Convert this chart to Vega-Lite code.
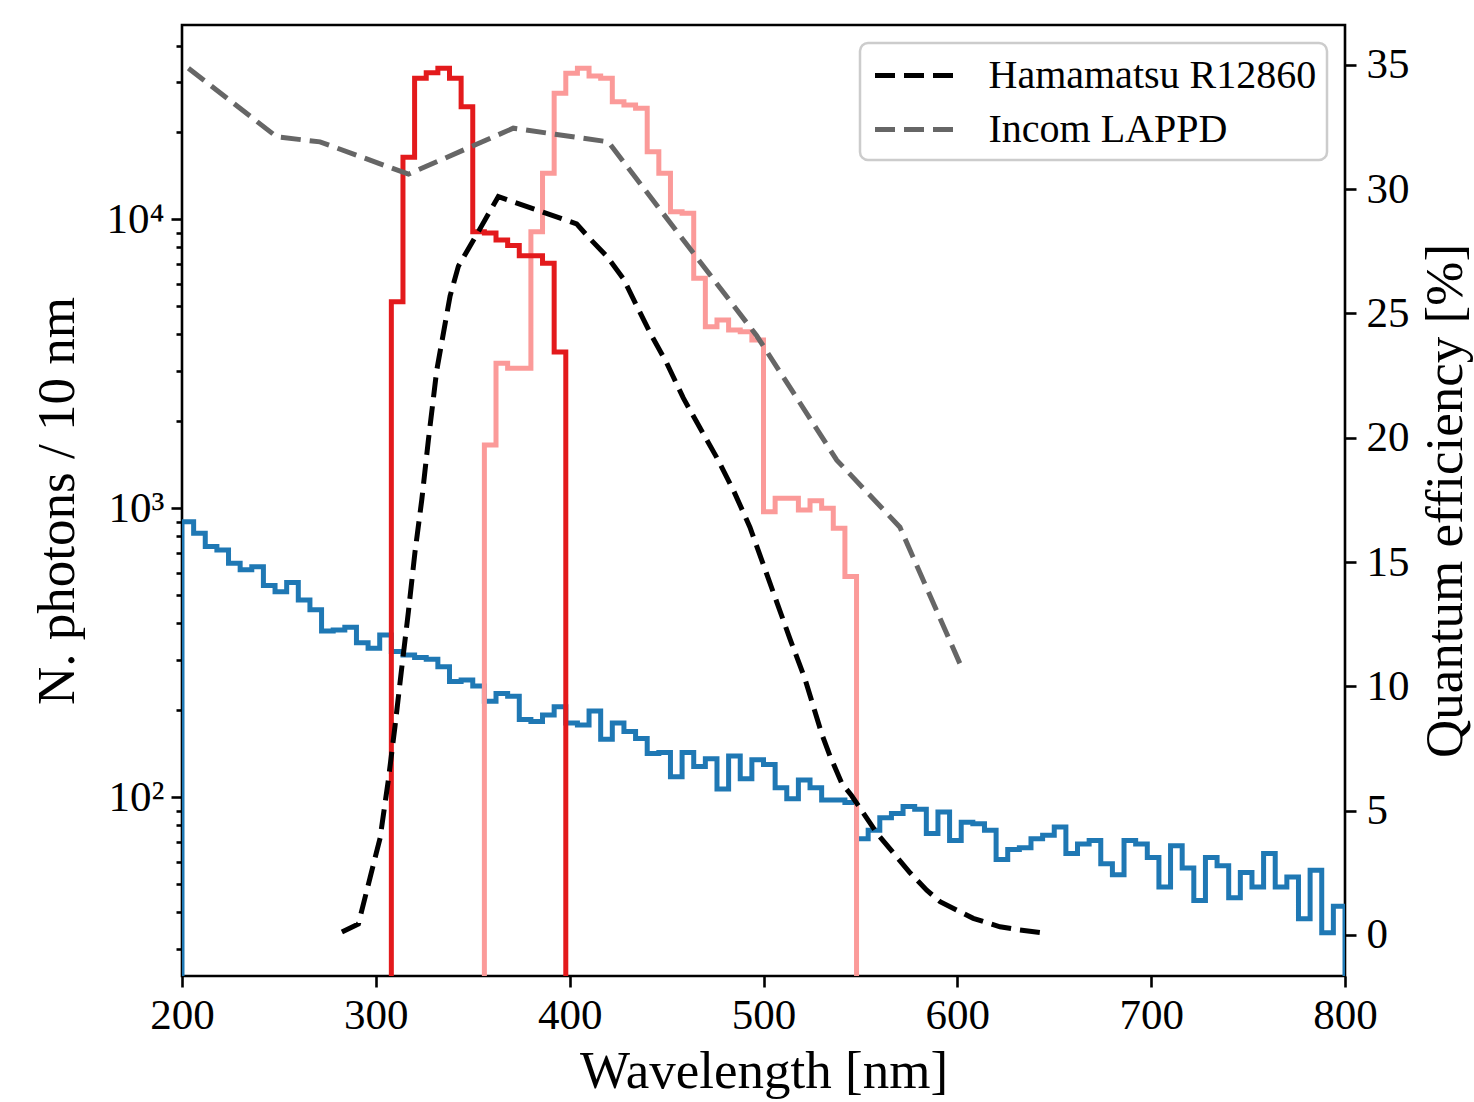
{
  "$schema": "https://vega.github.io/schema/vega-lite/v6.json",
  "width": 1163,
  "height": 951,
  "autosize": {"type": "none"},
  "padding": {"left": 182, "top": 25, "right": 129, "bottom": 126},
  "background": "white",
  "config": {
    "view": {"stroke": "black", "strokeWidth": 2.6},
    "font": "Liberation Serif",
    "axis": {
      "labelFont": "Liberation Serif", "titleFont": "Liberation Serif",
      "labelFontSize": 43, "titleFontSize": 53, "titleFontWeight": "normal",
      "labelColor": "black", "titleColor": "black", "tickColor": "black",
      "tickWidth": 2.6, "tickSize": 11, "domain": false, "grid": false,
      "labelPadding": 7, "labelOverlap": false, "labelFlush": false
    },
    "legend": {
      "orient": "top-right", "offset": 18, "title": null,
      "labelFont": "Liberation Serif", "labelFontSize": 40, "labelColor": "black", "labelLimit": 600,
      "symbolType": "M-2,0L2,0", "symbolSize": 1600, "symbolStrokeWidth": 5, "symbolDash": [20, 9],
      "symbolOffset": 22.5, "labelOffset": 51, "padding": 10, "rowPadding": 11,
      "strokeColor": "#cccccc", "fillColor": "rgba(255,255,255,0.8)", "cornerRadius": 8
    }
  },
  "datasets": {
    "hist": [
      {"s": "bg", "wl": 200, "n": 1},
      {"s": "bg", "wl": 200, "n": 900}, {"s": "bg", "wl": 206, "n": 821}, {"s": "bg", "wl": 212, "n": 738}, {"s": "bg", "wl": 218, "n": 718},
      {"s": "bg", "wl": 224, "n": 646}, {"s": "bg", "wl": 230, "n": 613}, {"s": "bg", "wl": 236, "n": 629}, {"s": "bg", "wl": 242, "n": 541},
      {"s": "bg", "wl": 248, "n": 515}, {"s": "bg", "wl": 254, "n": 554}, {"s": "bg", "wl": 260, "n": 482}, {"s": "bg", "wl": 266, "n": 446},
      {"s": "bg", "wl": 272, "n": 377}, {"s": "bg", "wl": 278, "n": 380}, {"s": "bg", "wl": 284, "n": 388}, {"s": "bg", "wl": 290, "n": 343},
      {"s": "bg", "wl": 296, "n": 328}, {"s": "bg", "wl": 302, "n": 365}, {"s": "bg", "wl": 308, "n": 320}, {"s": "bg", "wl": 314, "n": 311},
      {"s": "bg", "wl": 320, "n": 305}, {"s": "bg", "wl": 326, "n": 301}, {"s": "bg", "wl": 332, "n": 283}, {"s": "bg", "wl": 338, "n": 252},
      {"s": "bg", "wl": 344, "n": 255}, {"s": "bg", "wl": 350, "n": 243}, {"s": "bg", "wl": 356, "n": 215}, {"s": "bg", "wl": 362, "n": 229},
      {"s": "bg", "wl": 368, "n": 224}, {"s": "bg", "wl": 374, "n": 186}, {"s": "bg", "wl": 380, "n": 183}, {"s": "bg", "wl": 386, "n": 193},
      {"s": "bg", "wl": 392, "n": 206}, {"s": "bg", "wl": 398, "n": 181}, {"s": "bg", "wl": 404, "n": 178}, {"s": "bg", "wl": 410, "n": 199},
      {"s": "bg", "wl": 416, "n": 159}, {"s": "bg", "wl": 422, "n": 181}, {"s": "bg", "wl": 428, "n": 169}, {"s": "bg", "wl": 434, "n": 160},
      {"s": "bg", "wl": 440, "n": 142}, {"s": "bg", "wl": 446, "n": 143}, {"s": "bg", "wl": 452, "n": 118}, {"s": "bg", "wl": 458, "n": 143},
      {"s": "bg", "wl": 464, "n": 128}, {"s": "bg", "wl": 470, "n": 136}, {"s": "bg", "wl": 476, "n": 107}, {"s": "bg", "wl": 482, "n": 139},
      {"s": "bg", "wl": 488, "n": 116}, {"s": "bg", "wl": 494, "n": 135}, {"s": "bg", "wl": 500, "n": 130}, {"s": "bg", "wl": 506, "n": 108},
      {"s": "bg", "wl": 512, "n": 99}, {"s": "bg", "wl": 518, "n": 115}, {"s": "bg", "wl": 524, "n": 108}, {"s": "bg", "wl": 530, "n": 98},
      {"s": "bg", "wl": 536, "n": 98}, {"s": "bg", "wl": 542, "n": 96}, {"s": "bg", "wl": 548, "n": 72}, {"s": "bg", "wl": 554, "n": 77},
      {"s": "bg", "wl": 560, "n": 85}, {"s": "bg", "wl": 566, "n": 88}, {"s": "bg", "wl": 572, "n": 93}, {"s": "bg", "wl": 578, "n": 91},
      {"s": "bg", "wl": 584, "n": 75}, {"s": "bg", "wl": 590, "n": 89}, {"s": "bg", "wl": 596, "n": 71}, {"s": "bg", "wl": 602, "n": 82},
      {"s": "bg", "wl": 608, "n": 81}, {"s": "bg", "wl": 614, "n": 77}, {"s": "bg", "wl": 620, "n": 61}, {"s": "bg", "wl": 626, "n": 66},
      {"s": "bg", "wl": 632, "n": 67}, {"s": "bg", "wl": 638, "n": 72}, {"s": "bg", "wl": 644, "n": 74}, {"s": "bg", "wl": 650, "n": 79},
      {"s": "bg", "wl": 656, "n": 64}, {"s": "bg", "wl": 662, "n": 69}, {"s": "bg", "wl": 668, "n": 71}, {"s": "bg", "wl": 674, "n": 59},
      {"s": "bg", "wl": 680, "n": 54}, {"s": "bg", "wl": 686, "n": 71}, {"s": "bg", "wl": 692, "n": 69}, {"s": "bg", "wl": 698, "n": 62},
      {"s": "bg", "wl": 704, "n": 49}, {"s": "bg", "wl": 710, "n": 68}, {"s": "bg", "wl": 716, "n": 57}, {"s": "bg", "wl": 722, "n": 44},
      {"s": "bg", "wl": 728, "n": 62}, {"s": "bg", "wl": 734, "n": 58}, {"s": "bg", "wl": 740, "n": 45}, {"s": "bg", "wl": 746, "n": 55},
      {"s": "bg", "wl": 752, "n": 49}, {"s": "bg", "wl": 758, "n": 64}, {"s": "bg", "wl": 764, "n": 49}, {"s": "bg", "wl": 770, "n": 53},
      {"s": "bg", "wl": 776, "n": 38}, {"s": "bg", "wl": 782, "n": 56}, {"s": "bg", "wl": 788, "n": 34}, {"s": "bg", "wl": 794, "n": 42},
      {"s": "bg", "wl": 800, "n": 42}, {"s": "bg", "wl": 800, "n": 1},

      {"s": "pink", "wl": 356, "n": 1},
      {"s": "pink", "wl": 356, "n": 1659}, {"s": "pink", "wl": 362, "n": 3180}, {"s": "pink", "wl": 368, "n": 3056}, {"s": "pink", "wl": 374, "n": 3056},
      {"s": "pink", "wl": 380, "n": 9075}, {"s": "pink", "wl": 386, "n": 14450}, {"s": "pink", "wl": 392, "n": 27330}, {"s": "pink", "wl": 398, "n": 32050},
      {"s": "pink", "wl": 404, "n": 33360}, {"s": "pink", "wl": 410, "n": 31370}, {"s": "pink", "wl": 416, "n": 30810}, {"s": "pink", "wl": 422, "n": 25550},
      {"s": "pink", "wl": 428, "n": 24890}, {"s": "pink", "wl": 434, "n": 24250}, {"s": "pink", "wl": 440, "n": 17160}, {"s": "pink", "wl": 446, "n": 14450},
      {"s": "pink", "wl": 452, "n": 10640}, {"s": "pink", "wl": 458, "n": 10510}, {"s": "pink", "wl": 464, "n": 6259}, {"s": "pink", "wl": 470, "n": 4256},
      {"s": "pink", "wl": 476, "n": 4489}, {"s": "pink", "wl": 482, "n": 4145}, {"s": "pink", "wl": 488, "n": 4090}, {"s": "pink", "wl": 494, "n": 3828},
      {"s": "pink", "wl": 500, "n": 975}, {"s": "pink", "wl": 506, "n": 1085}, {"s": "pink", "wl": 512, "n": 1085}, {"s": "pink", "wl": 518, "n": 988},
      {"s": "pink", "wl": 524, "n": 1064}, {"s": "pink", "wl": 530, "n": 1002}, {"s": "pink", "wl": 536, "n": 854}, {"s": "pink", "wl": 542, "n": 581},
      {"s": "pink", "wl": 548, "n": 581}, {"s": "pink", "wl": 548, "n": 1},

      {"s": "red", "wl": 308, "n": 1},
      {"s": "red", "wl": 308, "n": 5195}, {"s": "red", "wl": 314, "n": 16420}, {"s": "red", "wl": 320, "n": 30810}, {"s": "red", "wl": 326, "n": 32210},
      {"s": "red", "wl": 332, "n": 33360}, {"s": "red", "wl": 338, "n": 30810}, {"s": "red", "wl": 344, "n": 24570}, {"s": "red", "wl": 350, "n": 9075},
      {"s": "red", "wl": 356, "n": 8980}, {"s": "red", "wl": 362, "n": 8497}, {"s": "red", "wl": 368, "n": 8128}, {"s": "red", "wl": 374, "n": 7494},
      {"s": "red", "wl": 380, "n": 7494}, {"s": "red", "wl": 386, "n": 7054}, {"s": "red", "wl": 392, "n": 3479},
      {"s": "red", "wl": 398, "n": 3479}, {"s": "red", "wl": 398, "n": 1}
    ],
    "qe": [
      {"det": "Hamamatsu R12860", "wl": 282.5, "qe": 0.12}, {"det": "Hamamatsu R12860", "wl": 291.0, "qe": 0.44},
      {"det": "Hamamatsu R12860", "wl": 297.0, "qe": 2.3}, {"det": "Hamamatsu R12860", "wl": 302.2, "qe": 3.9},
      {"det": "Hamamatsu R12860", "wl": 306.4, "qe": 6.2}, {"det": "Hamamatsu R12860", "wl": 309.9, "qe": 8.4},
      {"det": "Hamamatsu R12860", "wl": 313.3, "qe": 10.7}, {"det": "Hamamatsu R12860", "wl": 316.8, "qe": 13.0},
      {"det": "Hamamatsu R12860", "wl": 320.2, "qe": 15.4}, {"det": "Hamamatsu R12860", "wl": 323.7, "qe": 17.5},
      {"det": "Hamamatsu R12860", "wl": 327.1, "qe": 19.9}, {"det": "Hamamatsu R12860", "wl": 331.4, "qe": 22.7},
      {"det": "Hamamatsu R12860", "wl": 338.3, "qe": 25.7}, {"det": "Hamamatsu R12860", "wl": 342.6, "qe": 26.9},
      {"det": "Hamamatsu R12860", "wl": 353.7, "qe": 28.4}, {"det": "Hamamatsu R12860", "wl": 363.2, "qe": 29.7},
      {"det": "Hamamatsu R12860", "wl": 403.6, "qe": 28.6}, {"det": "Hamamatsu R12860", "wl": 410.5, "qe": 28.0},
      {"det": "Hamamatsu R12860", "wl": 419.1, "qe": 27.3}, {"det": "Hamamatsu R12860", "wl": 427.7, "qe": 26.4},
      {"det": "Hamamatsu R12860", "wl": 434.6, "qe": 25.3}, {"det": "Hamamatsu R12860", "wl": 442.3, "qe": 24.1},
      {"det": "Hamamatsu R12860", "wl": 450.1, "qe": 23.0}, {"det": "Hamamatsu R12860", "wl": 458.6, "qe": 21.6},
      {"det": "Hamamatsu R12860", "wl": 467.2, "qe": 20.4}, {"det": "Hamamatsu R12860", "wl": 475.9, "qe": 19.2},
      {"det": "Hamamatsu R12860", "wl": 484.4, "qe": 17.9}, {"det": "Hamamatsu R12860", "wl": 493.0, "qe": 16.4},
      {"det": "Hamamatsu R12860", "wl": 499.9, "qe": 14.9}, {"det": "Hamamatsu R12860", "wl": 506.8, "qe": 13.4},
      {"det": "Hamamatsu R12860", "wl": 513.7, "qe": 11.9}, {"det": "Hamamatsu R12860", "wl": 521.4, "qe": 10.3},
      {"det": "Hamamatsu R12860", "wl": 525.7, "qe": 9.2}, {"det": "Hamamatsu R12860", "wl": 530.0, "qe": 8.1},
      {"det": "Hamamatsu R12860", "wl": 534.3, "qe": 7.2}, {"det": "Hamamatsu R12860", "wl": 540.4, "qe": 6.1},
      {"det": "Hamamatsu R12860", "wl": 545.5, "qe": 5.6}, {"det": "Hamamatsu R12860", "wl": 550.7, "qe": 5.0},
      {"det": "Hamamatsu R12860", "wl": 558.4, "qe": 4.1}, {"det": "Hamamatsu R12860", "wl": 567.0, "qe": 3.3},
      {"det": "Hamamatsu R12860", "wl": 575.6, "qe": 2.5}, {"det": "Hamamatsu R12860", "wl": 584.2, "qe": 1.8},
      {"det": "Hamamatsu R12860", "wl": 591.1, "qe": 1.34}, {"det": "Hamamatsu R12860", "wl": 599.7, "qe": 1.0},
      {"det": "Hamamatsu R12860", "wl": 608.2, "qe": 0.67}, {"det": "Hamamatsu R12860", "wl": 622.0, "qe": 0.33},
      {"det": "Hamamatsu R12860", "wl": 632.3, "qe": 0.2}, {"det": "Hamamatsu R12860", "wl": 643.5, "qe": 0.09},
      {"det": "Incom LAPPD", "wl": 203.3, "qe": 34.86}, {"det": "Incom LAPPD", "wl": 248.9, "qe": 32.1},
      {"det": "Incom LAPPD", "wl": 271.2, "qe": 31.9}, {"det": "Incom LAPPD", "wl": 316.8, "qe": 30.6},
      {"det": "Incom LAPPD", "wl": 370.9, "qe": 32.45}, {"det": "Incom LAPPD", "wl": 419.9, "qe": 31.9},
      {"det": "Incom LAPPD", "wl": 496.5, "qe": 24.1}, {"det": "Incom LAPPD", "wl": 537.8, "qe": 19.1},
      {"det": "Incom LAPPD", "wl": 570.4, "qe": 16.4}, {"det": "Incom LAPPD", "wl": 603.1, "qe": 10.6}
    ]
  },
  "encoding": {
    "x": {
      "field": "wl", "type": "quantitative",
      "scale": {"domain": [200, 800], "nice": false, "zero": false},
      "axis": {"title": "Wavelength [nm]", "values": [200, 300, 400, 500, 600, 700, 800], "titlePadding": 8}
    }
  },
  "layer": [
    {
      "data": {"name": "hist"},
      "encoding": {
        "y": {
          "field": "n", "type": "quantitative",
          "scale": {"type": "log", "domain": [24.1, 47100], "nice": false},
          "axis": {
            "title": "N. photons / 10 nm",
            "titlePadding": 22,
            "values": [30, 40, 50, 60, 70, 80, 90, 100, 200, 300, 400, 500, 600, 700, 800, 900, 1000, 2000, 3000, 4000, 5000, 6000, 7000, 8000, 9000, 10000, 20000, 30000, 40000],
            "labelExpr": "datum.value == 100 ? '10²' : datum.value == 1000 ? '10³' : datum.value == 10000 ? '10⁴' : ''",
            "tickSize": {"condition": {"test": "datum.value == 100 || datum.value == 1000 || datum.value == 10000", "value": 11}, "value": 6}
          }
        },
        "order": {"value": null}
      },
      "layer": [
        {
          "transform": [{"filter": "datum.s == 'bg'"}],
          "mark": {"type": "line", "interpolate": "step-after", "strokeWidth": 5, "clip": true, "color": "#1f78b4"}
        },
        {
          "transform": [{"filter": "datum.s == 'pink'"}],
          "mark": {"type": "line", "interpolate": "step-after", "strokeWidth": 5, "clip": true, "color": "#fb9a99"}
        },
        {
          "transform": [{"filter": "datum.s == 'red'"}],
          "mark": {"type": "line", "interpolate": "step-after", "strokeWidth": 5, "clip": true, "color": "#e31a1c"}
        }
      ]
    },
    {
      "data": {"name": "qe"},
      "mark": {"type": "line", "strokeDash": [20, 9], "strokeWidth": 5, "clip": true},
      "encoding": {
        "y": {
          "field": "qe", "type": "quantitative",
          "scale": {"domain": [-1.65, 36.6], "nice": false, "zero": false},
          "axis": {
            "orient": "right", "title": "Quantum efficiency [%]",
            "values": [0, 5, 10, 15, 20, 25, 30, 35],
            "labelPadding": 10, "titlePadding": 10,
            "titleAngle": 270, "titleBaseline": "top"
          }
        },
        "color": {
          "field": "det", "type": "nominal",
          "scale": {"domain": ["Hamamatsu R12860", "Incom LAPPD"], "range": ["#000000", "#666666"]},
          "legend": {"encode": {"legend": {"update": {"strokeWidth": {"value": 2.5}}}}}
        }
      }
    }
  ],
  "resolve": {"scale": {"y": "independent"}}
}
